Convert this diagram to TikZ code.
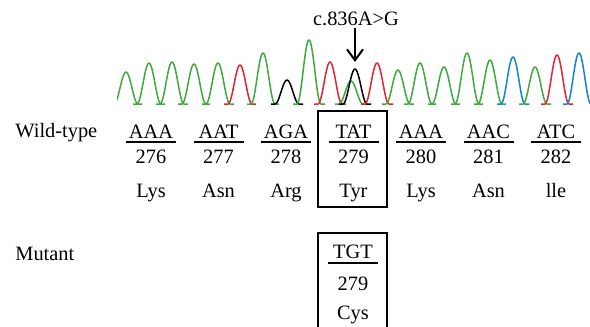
\documentclass[tikz,border=0pt]{standalone}
\usepackage{fontspec}
\setmainfont{Liberation Serif}
\usetikzlibrary{arrows.meta}

\definecolor{trgreen}{RGB}{60,170,60}
\definecolor{trred}{RGB}{225,35,50}
\definecolor{trblue}{RGB}{20,130,205}

\tikzset{
  trace/.style={line width=0.75pt, line join=round},
  txt/.style={inner sep=1pt, anchor=base, font=\fontsize{10.2}{12}\selectfont},
  bar/.style={line width=0.6pt},
  frame/.style={line width=1pt},
}

% one peak of the trace: colour, centre, top (baseline at 104)
\newcommand{\peak}[3]{%
  \draw[trace,#1] (#2-16,104) -- (#2-12,104)
    plot[domain=-12:12,samples=25,smooth]
    ({#2+\x},{104-(104-#3)*(0.5+0.5*cos(15*\x))}) -- (#2+16,104);
}

\begin{document}
\begin{tikzpicture}[x=0.5pt,y=-0.5pt]
\useasboundingbox (0,0) rectangle (590,327);

% Chromatogram
\begin{scope}
\clip (117,0) rectangle (590,110);
\peak{trgreen}{126}{72}
\peak{trgreen}{149}{63}
\peak{trgreen}{172}{62}
\peak{trgreen}{194}{64}
\peak{trgreen}{218}{63}
\peak{trred}{240}{65}
\peak{trgreen}{263}{53}
\peak{black}{287}{80}
\peak{trgreen}{309}{40}
\peak{trred}{330}{62}
\peak{trgreen}{351}{81} % G under the mutation
\peak{black}{355}{69}
\peak{trred}{377}{63}
\peak{trgreen}{398}{70}
\peak{trgreen}{420}{63}
\peak{trgreen}{444}{67}
\peak{trgreen}{467}{53}
\peak{trgreen}{490}{60}
\peak{trblue}{513}{57}
\peak{trgreen}{535}{67}
\peak{trred}{557}{55}
\peak{trblue}{579}{53}
\end{scope}

% Mutation label and arrow
\node[txt] (mutlabel) at (356,25) {c.836A>G};
\coordinate (mutpeak) at (355,62);
\draw[line width=1pt,-{Straight Barb[length=5.5pt,width=8pt]}] (mutlabel.south -| mutpeak) -- (mutpeak);

% Wild-type row
\node[txt,anchor=base west] (wild) at (13,137) {Wild-type};
\foreach \cod/\pos/\amino [count=\i] in {AAA/276/Lys, AAT/277/Asn, AGA/278/Arg,
    TAT/279/Tyr, AAA/280/Lys, AAC/281/Asn, ATC/282/lle}{
  \pgfmathsetmacro\cx{151+67.5*(\i-1)}
  \node[txt] (cod\i) at (\cx,138) {\cod};
  \draw[bar] (\cx-25,142) -- (\cx+25,142);
  \node[txt] (num\i) at (\cx,163) {\pos};
  \node[txt] (amino\i) at (\cx,197) {\amino};
}
\draw[frame] (318,111) rectangle (387,207); % codon 279

% Mutant row
\node[txt,anchor=base west] (mutant) at (13,260) {Mutant};
\node[txt] (mcod) at (353,258) {TGT};
\draw[bar] (328,263) -- (378,263);
\node[txt] (mnum) at (353,290) {279};
\node[txt] (mamino) at (353,319) {Cys};
\draw[frame] (318,327) |- (387,233) -- (387,327);

\end{tikzpicture}
\end{document}
